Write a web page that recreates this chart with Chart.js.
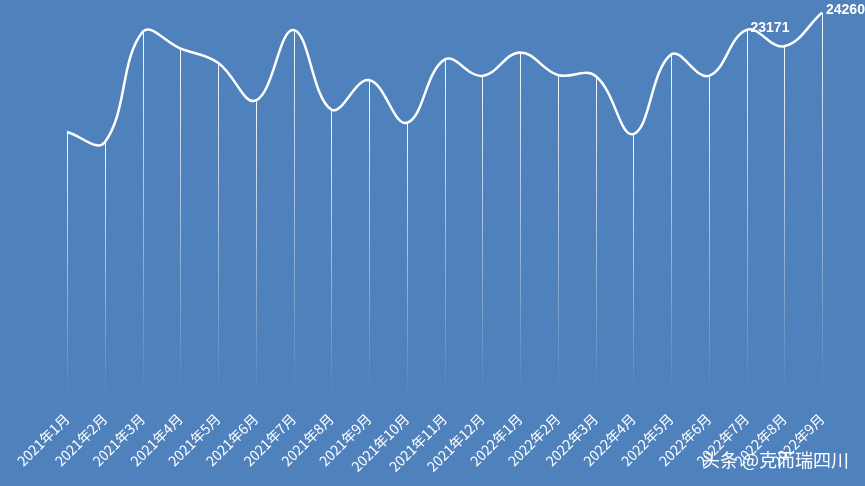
<!DOCTYPE html>
<html><head><meta charset="utf-8">
<script src="https://cdn.jsdelivr.net/npm/chart.js@4/dist/chart.umd.min.js"></script>
<style>
html,body{margin:0;padding:0;background:#4f81bd;}
#wrap{position:relative;width:865px;height:486px;}
#marca{position:absolute;right:16px;bottom:14px;color:#fff;font:18px "Noto Sans CJK SC";}
</style></head><body>
<div id="wrap"><canvas id="grafica" width="865" height="486"></canvas>
<div id="marca">头条 @克而瑞四川</div></div>
<script>
const meses = ["2021年1月","2021年2月","2021年3月","2021年4月","2021年5月","2021年6月","2021年7月","2021年8月","2021年9月","2021年10月","2021年11月","2021年12月","2022年1月","2022年2月","2022年3月","2022年4月","2022年5月","2022年6月","2022年7月","2022年8月","2022年9月"];
const valores = [16770,16130,23040,22020,21120,18750,23171,18180,20030,17350,21310,20290,21760,20350,20290,16640,21630,20290,23171,22150,24260];
const etiquetas = {18:"23171", 20:"24260"};

const lineasVerticales = {
    id: 'lineasVerticales',
    beforeDatasetsDraw(chart) {
        const ctx = chart.ctx;
        const fondo = chart.chartArea.bottom;
        chart.getDatasetMeta(0).data.forEach(p => {
            const g = ctx.createLinearGradient(0, p.y, 0, fondo);
            g.addColorStop(0, 'rgba(255,255,255,0.95)');
            g.addColorStop(1, 'rgba(255,255,255,0)');
            ctx.save();
            ctx.strokeStyle = g;
            ctx.lineWidth = 1;
            ctx.beginPath();
            ctx.moveTo(Math.round(p.x) + 0.5, p.y);
            ctx.lineTo(Math.round(p.x) + 0.5, fondo);
            ctx.stroke();
            ctx.restore();
        });
    },
    afterDatasetsDraw(chart) {
        const ctx = chart.ctx;
        chart.getDatasetMeta(0).data.forEach((p, i) => {
            if (!etiquetas[i]) return;
            ctx.save();
            ctx.fillStyle = '#fff';
            ctx.font = 'bold 14px "Liberation Sans"';
            ctx.textAlign = 'left';
            ctx.textBaseline = 'middle';
            ctx.fillText(etiquetas[i], p.x + 4, p.y - 2);
            ctx.restore();
        });
    }
};

new Chart(document.getElementById('grafica'), {
    type: 'line',
    data: {
        labels: meses,
        datasets: [{
            data: valores,
            borderColor: '#fff',
            borderWidth: 2.5,
            tension: 0.4,
            pointRadius: 0,
            fill: false
        }]
    },
    options: {
        responsive: false,
        animation: false,
        layout: { padding: { left: 67, right: 43, top: 12, bottom: 8 } },
        plugins: { legend: { display: false }, tooltip: { enabled: false } },
        scales: {
            x: {
                offset: false,
                grid: { display: false },
                border: { display: false },
                ticks: { color: '#fff', maxRotation: 45, minRotation: 45, autoSkip: false,
                         font: { size: 14, family: '"Noto Sans CJK SC"' } }
            },
            y: { display: false, min: 0, max: 24300 }
        }
    },
    plugins: [lineasVerticales]
});
</script>
</body></html>
